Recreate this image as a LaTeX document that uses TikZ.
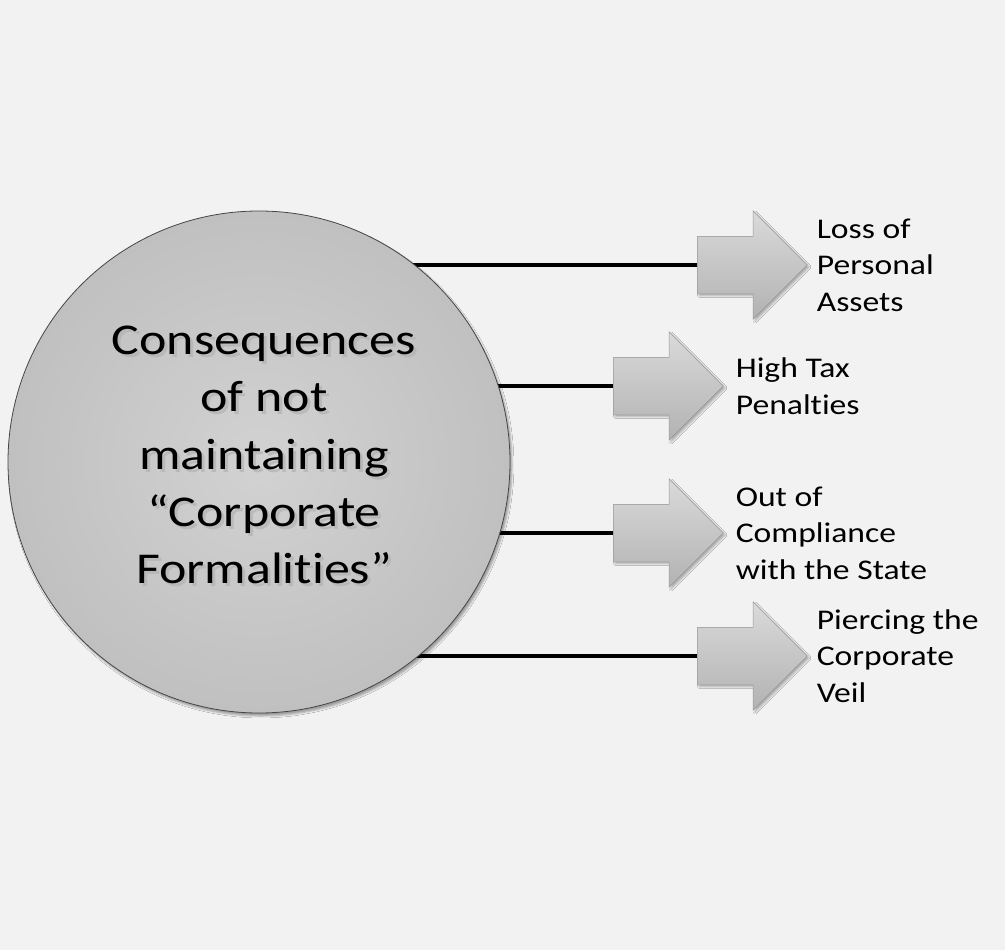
\documentclass[tikz,border=0pt]{standalone}
\usepackage{fontspec}
\setmainfont[FakeStretch=1.18, Ligatures={NoCommon, NoRare, NoContextual},
             RawFeature={-liga;-clig;-calt;-dlig}]{Carlito}
\usepackage{tikz}
\usetikzlibrary{positioning, shapes.arrows, shadows.blur, backgrounds}
\usepackage{xcolor}

\definecolor{pagegray}{HTML}{F2F2F2}
\definecolor{discin}{HTML}{D2D2D2}
\definecolor{discout}{HTML}{C0C0C0}
\definecolor{arrtop}{HTML}{DADADA}
\definecolor{arrbot}{HTML}{B2B2B2}

\begin{document}
\begin{tikzpicture}[
        x=1pt, y=-1pt,
        node distance=10pt,
        disc/.style={circle, draw=gray!55!black, line width=0.8pt,
                     minimum size=502pt, inner sep=0pt, shading=radial,
                     inner color=discin, outer color=discout,
                     blur shadow={shadow xshift=2pt, shadow yshift=-3pt,
                                  shadow opacity=35}},
        fatarrow/.style={single arrow, draw=gray!80, line width=0.5pt,
                         minimum height=110pt, minimum width=108pt,
                         inner xsep=0pt, inner ysep=28.5pt,
                         single arrow head extend=25.5pt,
                         top color=arrtop, bottom color=arrbot,
                         blur shadow={shadow xshift=2pt, shadow yshift=-2pt,
                                      shadow opacity=30}},
        result/.style={anchor=west, inner sep=0pt, align=left,
                       font=\fontsize{28.5}{36.5}\selectfont},
        title/.style={inner sep=0pt, align=center,
                      font=\fontsize{44}{57.3}\selectfont},
        link/.style={line width=3.6pt}
    ]

    %% central disc
    \node[disc] (consequences) at (259,462) {};
    \node[title, text=gray!60, opacity=0.7] (titleshadow) at (267,458)
          {Consequences\\of not\\maintaining\\“Corporate\\Formalit{}ies”};
    \node[title] (titletext) at (264,455)
          {Consequences\\of not\\maintaining\\“Corporate\\Formalit{}ies”};

    %% arrows
    \node[fatarrow, anchor=tail] (arrloss)  at (697,265) {};
    \node[fatarrow, anchor=tail] (arrtax)   at (613,386) {};
    \node[fatarrow, anchor=tail] (arrstate) at (613,533) {};
    \node[fatarrow, anchor=tail] (arrveil)  at (697,656) {};

    %% labels
    \node[result, right=9pt of arrloss.tip]   (txtloss)  {Loss of\\Personal\\Assets};
    \node[result, right=12pt of arrtax.tip]   (txttax)   {High Tax\\Penalt{}ies};
    \node[result, right=12pt of arrstate.tip] (txtstate) {Out of\\Compliance\\with the State};
    \node[result, right=9pt of arrveil.tip]   (txtveil)  {Piercing the\\Corporate\\Veil};

    %% page and connectors
    \begin{scope}[on background layer]
        \fill[pagegray] (0,0) rectangle (1005,950);
        \draw[link] (consequences.center |- arrloss.tail)  -- (arrloss.tail);
        \draw[link] (consequences.center |- arrtax.tail)   -- (arrtax.tail);
        \draw[link] (consequences.center |- arrstate.tail) -- (arrstate.tail);
        \draw[link] (consequences.center |- arrveil.tail)  -- (arrveil.tail);
    \end{scope}

\end{tikzpicture}
\end{document}
